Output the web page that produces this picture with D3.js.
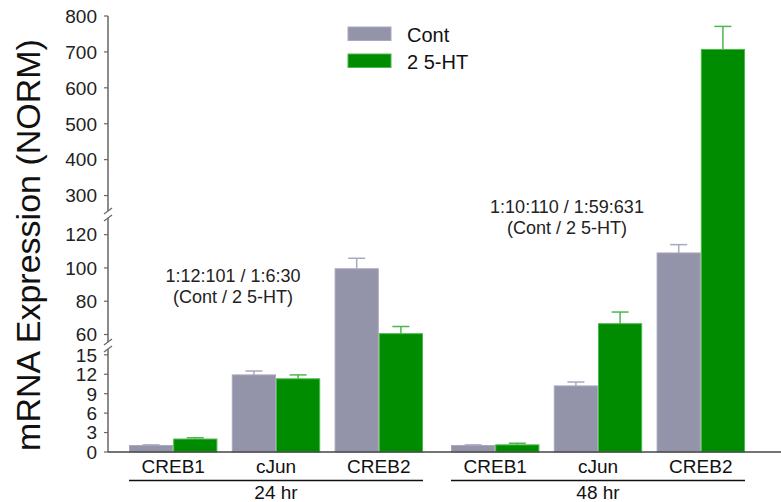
<!DOCTYPE html>
<html>
<head>
<meta charset="utf-8">
<script src="https://cdn.jsdelivr.net/npm/d3@7"></script>
<style>
  body { margin: 0; background: #fff; }
  svg { display: block; font-family: "Liberation Sans", Arial, sans-serif; }
</style>
</head>
<body>
<div id="chart"></div>
<script>
// =========================
// DATA
// =========================
const groups = ["24 hr", "48 hr"];
const genes = ["CREB1", "cJun", "CREB2"];
const seriesNames = ["Cont", "2 5-HT"];

// one value per group x gene, in order 24hr CREB1, cJun, CREB2, 48hr CREB1, cJun, CREB2
const contValues = [1.0, 11.9, 99.5, 1.0, 10.2, 109];
const contErrors = [0.1, 0.6, 6.3, 0.1, 0.6, 5];
const htValues = [2.0, 11.3, 60.5, 1.1, 66.5, 707];
const htErrors = [0.2, 0.6, 4.3, 0.25, 7, 64];

const tickValues = [0, 3, 6, 9, 12, 15, 60, 80, 100, 120, 300, 400, 500, 600, 700, 800];
// broken axis: three segments
const yDomain = [0, 15.9, 55.5, 130, 257, 800];

const annotations = [
    ["1:12:101 / 1:6:30", "(Cont / 2 5-HT)"],
    ["1:10:110 / 1:59:631", "(Cont / 2 5-HT)"]
];

// =========================
// LAYOUT
// =========================
const W = 781, H = 502;
const axisX = 108;
const yRange = [452, 349, 342, 218, 211, 16];
const colors = { "Cont": "#9393aa", "2 5-HT": "#008c00" };
const edge = { "Cont": "#a9a9bd", "2 5-HT": "#4cb84c" };

const svg = d3.select("#chart")
    .append("svg")
    .attr("width", W)
    .attr("height", H);

// =========================
// SCALES
// =========================
const y = d3.scaleLinear().domain(yDomain).range(yRange);

const x0 = d3.scaleBand()
    .domain(groups)
    .range([129, 745])
    .paddingInner(0.087);

const x1 = d3.scaleBand()
    .domain(genes)
    .range([0, x0.bandwidth()])
    .paddingInner(0.14);

const x2 = d3.scaleBand()
    .domain(seriesNames)
    .range([0, x1.bandwidth()]);

const rows = [];
groups.forEach((g, gi) => {
    genes.forEach((gene, ji) => {
        const i = gi * genes.length + ji;
        rows.push({ group: g, gene, series: "Cont", value: contValues[i], err: contErrors[i] });
        rows.push({ group: g, gene, series: "2 5-HT", value: htValues[i], err: htErrors[i] });
    });
});

// =========================
// BARS
// =========================
const bars = svg.append("g");

bars.selectAll("rect")
    .data(rows)
    .enter()
    .append("rect")
    .attr("x", d => x0(d.group) + x1(d.gene) + x2(d.series) + 0.5)
    .attr("y", d => y(d.value))
    .attr("width", x2.bandwidth() - 1)
    .attr("height", d => y(0) - y(d.value))
    .attr("fill", d => colors[d.series])
    .attr("stroke", d => edge[d.series])
    .attr("stroke-width", 1);

// error bars (upper only)
const errs = svg.append("g");
rows.forEach(d => {
    const cx = x0(d.group) + x1(d.gene) + x2(d.series) + x2.bandwidth() / 2;
    const top = y(d.value + d.err);
    errs.append("line")
        .attr("x1", cx).attr("x2", cx)
        .attr("y1", y(d.value)).attr("y2", top)
        .attr("stroke", edge[d.series]).attr("stroke-width", 1.5);
    errs.append("line")
        .attr("x1", cx - 8.5).attr("x2", cx + 8.5)
        .attr("y1", top).attr("y2", top)
        .attr("stroke", edge[d.series]).attr("stroke-width", 1.5);
});

// =========================
// AXES
// =========================
const axisColor = "#666";
const ax = svg.append("g");

// axis segments with gaps at the breaks
[[0, 1], [2, 3], [4, 5]].forEach(([a, b]) => {
    ax.append("line")
        .attr("x1", axisX).attr("x2", axisX)
        .attr("y1", y(yDomain[a])).attr("y2", y(yDomain[b]))
        .attr("stroke", axisColor).attr("stroke-width", 1.5);
});

// break marks
[1, 2, 3, 4].forEach(i => {
    const yy = y(yDomain[i]);
    ax.append("line")
        .attr("x1", axisX - 4).attr("x2", axisX + 4)
        .attr("y1", yy + 3).attr("y2", yy - 3)
        .attr("stroke", axisColor).attr("stroke-width", 1.2);
});

ax.selectAll(".tick")
    .data(tickValues)
    .enter()
    .append("line")
    .attr("x1", axisX - 4).attr("x2", axisX)
    .attr("y1", d => y(d)).attr("y2", d => y(d))
    .attr("stroke", axisColor).attr("stroke-width", 1.2);

ax.selectAll(".tlabel")
    .data(tickValues)
    .enter()
    .append("text")
    .attr("x", axisX - 11)
    .attr("y", d => y(d))
    .attr("dy", "0.36em")
    .attr("text-anchor", "end")
    .style("font-size", "19px")
    .attr("fill", "#222")
    .text(d => d);

// x axis line
svg.append("line")
    .attr("x1", axisX).attr("x2", W)
    .attr("y1", y(0)).attr("y2", y(0))
    .attr("stroke", "#444").attr("stroke-width", 1.5);

// category labels
groups.forEach(g => {
    genes.forEach(gene => {
        svg.append("text")
            .attr("x", x0(g) + x1(gene) + x1.bandwidth() / 2)
            .attr("y", 473)
            .attr("text-anchor", "middle")
            .style("font-size", "19px")
            .attr("fill", "#111")
            .text(gene);
    });
    svg.append("line")
        .attr("x1", x0(g)).attr("x2", x0(g) + x0.bandwidth())
        .attr("y1", 480.5).attr("y2", 480.5)
        .attr("stroke", "#111").attr("stroke-width", 1.5);
    svg.append("text")
        .attr("x", x0(g) + x0.bandwidth() / 2)
        .attr("y", 499)
        .attr("text-anchor", "middle")
        .style("font-size", "19px")
        .attr("fill", "#111")
        .text(g);
});

// =========================
// TITLE & LABELS
// =========================
svg.append("text")
    .attr("transform", "translate(40, 245) rotate(-90)")
    .attr("text-anchor", "middle")
    .style("font-size", "34px")
    .attr("fill", "#111")
    .text("mRNA Expression (NORM)");

// ratio annotations
const annPos = [[233, 282], [567, 213]];
annotations.forEach((lines, i) => {
    lines.forEach((t, k) => {
        svg.append("text")
            .attr("x", annPos[i][0])
            .attr("y", annPos[i][1] + k * 21)
            .attr("text-anchor", "middle")
            .style("font-size", "18px")
            .attr("fill", "#222")
            .text(t);
    });
});

// =========================
// LEGEND
// =========================
const legend = svg.append("g").attr("transform", "translate(348, 27)");
seriesNames.forEach((s, i) => {
    const g = legend.append("g").attr("transform", `translate(0, ${i * 27})`);
    g.append("rect")
        .attr("width", 43).attr("height", 13.5)
        .attr("fill", colors[s])
        .attr("stroke", edge[s]).attr("stroke-width", 1);
    g.append("text")
        .attr("x", 59).attr("y", 14.5)
        .style("font-size", "20px")
        .attr("fill", "#111")
        .text(s);
});
</script>
</body>
</html>
